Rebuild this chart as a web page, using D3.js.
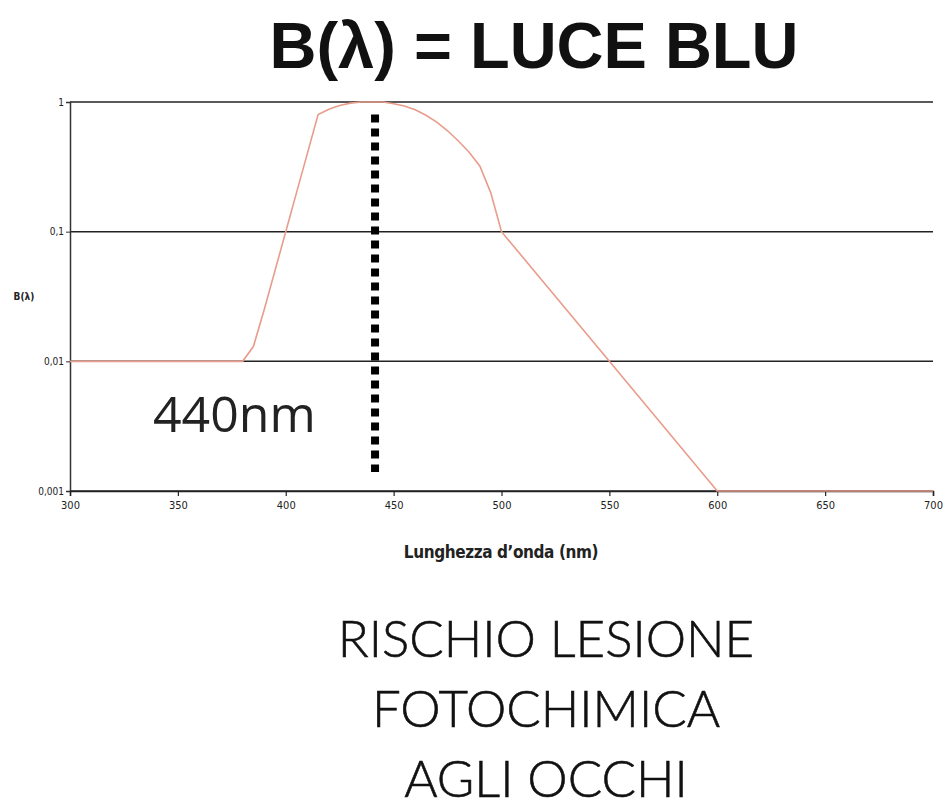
<!DOCTYPE html>
<html>
<head>
<meta charset="utf-8">
<script src="https://cdn.jsdelivr.net/npm/d3@7"></script>
<style>
  body { margin: 0; background: #fff; }
  svg { display: block; }
</style>
</head>
<body>
<svg width="946" height="807"></svg>
<script>
// B(lambda) blue light hazard curve
const wavelengths = [300, 380, 385, 390, 395, 400, 405, 410, 415, 420, 425, 430, 435, 440, 445,
                     450, 455, 460, 465, 470, 475, 480, 485, 490, 495, 500, 550, 600, 700];
const bValues = [0.01, 0.01, 0.013, 0.025, 0.05, 0.1, 0.2, 0.4, 0.8, 0.88, 0.94, 0.98, 1, 1, 1,
                 0.97, 0.93, 0.87, 0.79, 0.7, 0.6, 0.5, 0.41, 0.32, 0.2, 0.1, 0.01, 0.001, 0.001];
const xTicks = [300, 350, 400, 450, 500, 550, 600, 650, 700];
const yTicks = [1, 0.1, 0.01, 0.001];
const yTickLabels = ['1', '0,1', '0,01', '0,001'];
const markerWave = 440;
const footerLines = ['RISCHIO LESIONE', 'FOTOCHIMICA', 'AGLI OCCHI'];

const svg = d3.select('svg');
const margin = { left: 70, right: 13, top: 102, bottom: 316 };
const width = +svg.attr('width');
const height = +svg.attr('height');

const x = d3.scaleLinear().domain([300, 700]).range([margin.left, width - margin.right]);
const y = d3.scaleLog().domain([0.001, 1]).range([height - margin.bottom, margin.top]);

const narrow = '"DejaVu Sans Condensed", "Liberation Sans Narrow", sans-serif';

// title
svg.append('text')
   .attr('x', 534).attr('y', 68)
   .attr('text-anchor', 'middle')
   .attr('font-family', '"Liberation Sans", Arial, sans-serif')
   .attr('font-weight', 'bold')
   .attr('font-size', 65)
   .attr('fill', '#111')
   .text('B(λ) = LUCE BLU');

// horizontal grid lines
svg.append('g')
   .selectAll('line')
   .data(yTicks)
   .join('line')
   .attr('x1', x(300)).attr('x2', x(700))
   .attr('y1', d => y(d)).attr('y2', d => y(d))
   .attr('stroke', '#222')
   .attr('stroke-width', 1.5);

// y axis
const yAxis = d3.axisLeft(y).tickValues(yTicks)
               .tickFormat((d, i) => yTickLabels[i]).tickSize(4).tickPadding(2);
const gy = svg.append('g').attr('transform', `translate(${margin.left},0)`).call(yAxis);
gy.select('.domain').attr('stroke', '#333').attr('stroke-width', 1.5);
gy.selectAll('.tick line').attr('stroke', '#333');
gy.selectAll('.tick text').attr('font-family', narrow).attr('font-size', 10).attr('fill', '#222');

// x axis
const xAxis = d3.axisBottom(x).tickValues(xTicks).tickSize(5).tickPadding(5).tickFormat(d3.format('d'));
const gx = svg.append('g').attr('transform', `translate(0,${y(0.001)})`).call(xAxis);
gx.select('.domain').attr('stroke', '#222').attr('stroke-width', 1.5);
gx.selectAll('.tick line').attr('stroke', '#222').attr('stroke-width', 1.2);
gx.selectAll('.tick text').attr('font-family', narrow).attr('font-size', 11).attr('fill', '#222');

// axis titles
svg.append('text')
   .attr('x', 24).attr('y', 300)
   .attr('text-anchor', 'middle')
   .attr('font-family', narrow).attr('font-weight', 'bold').attr('font-size', 10)
   .attr('fill', '#222')
   .text('B(λ)');

svg.append('text')
   .attr('x', 501).attr('y', 558)
   .attr('text-anchor', 'middle')
   .attr('font-family', narrow).attr('font-weight', 'bold').attr('font-size', 17)
   .attr('letter-spacing', -0.4)
   .attr('fill', '#222')
   .text('Lunghezza d’onda (nm)');

// curve
const line = d3.line()
  .x((d, i) => x(wavelengths[i]))
  .y(d => y(d));

svg.append('path')
   .datum(bValues)
   .attr('fill', 'none')
   .attr('stroke', '#e89c8c')
   .attr('stroke-width', 1.6)
   .attr('d', line);

// 440 nm marker
svg.append('line')
   .attr('x1', x(markerWave) + 3).attr('x2', x(markerWave) + 3)
   .attr('y1', y(0.8)).attr('y2', y(0.0014))
   .attr('stroke', '#000')
   .attr('stroke-width', 8)
   .attr('stroke-dasharray', '8,6');

svg.append('text')
   .attr('x', 153).attr('y', 432)
   .attr('font-family', '"Open Sans", sans-serif')
   .attr('font-size', 50)
   .attr('fill', '#222')
   .text('440nm');

// footer
svg.append('g')
   .selectAll('text')
   .data(footerLines)
   .join('text')
   .attr('x', 546)
   .attr('y', (d, i) => 657 + i * 70)
   .attr('text-anchor', 'middle')
   .attr('font-family', 'Lato, sans-serif')
   .attr('font-weight', 300)
   .attr('font-size', 51)
   .attr('fill', '#111')
   .attr('stroke', '#111')
   .attr('stroke-width', 0.6)
   .text(d => d);
</script>
</body>
</html>
